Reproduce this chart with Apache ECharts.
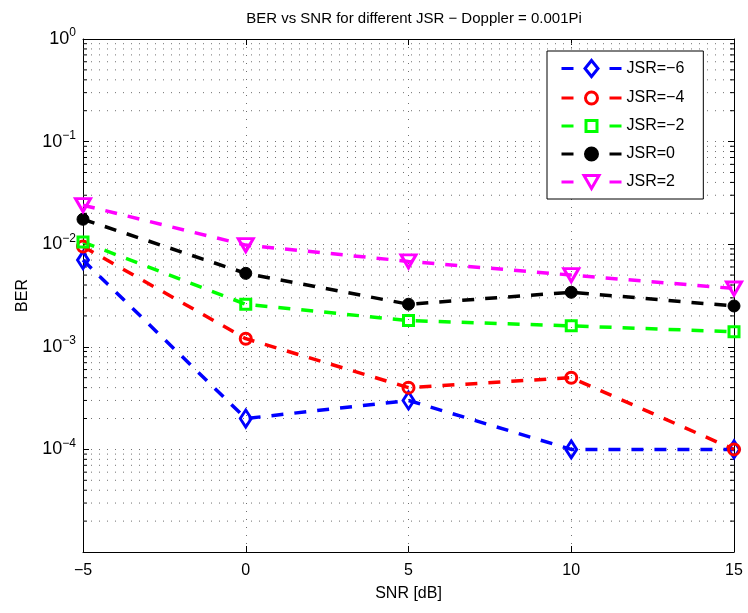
<!DOCTYPE html>
<html>
<head>
<meta charset="utf-8">
<script src="https://cdn.jsdelivr.net/npm/echarts@6/dist/echarts.min.js"></script>
<style>
  html, body { margin: 0; padding: 0; background: #fff; }
  #chart { width: 748px; height: 613px; }
</style>
</head>
<body>
<div id="chart"></div>
<script>
// SNR points (dB)
const snr = [-5, 0, 5, 10, 15];

// BER per jammer-to-signal ratio
const berJsrM6 = [0.0070, 0.00020, 0.00030, 0.00010, 0.00010];
const berJsrM4 = [0.0095, 0.00120, 0.00040, 0.00050, 0.00010];
const berJsrM2 = [0.0105, 0.00260, 0.00180, 0.00160, 0.00140];
const berJsr0  = [0.0175, 0.00520, 0.00260, 0.00340, 0.00250];
const berJsr2  = [0.0240, 0.00980, 0.00680, 0.00500, 0.00370];

const seriesNames = ['JSR=\u22126', 'JSR=\u22124', 'JSR=\u22122', 'JSR=0', 'JSR=2'];
const seriesColors = ['#0000ff', '#ff0000', '#00ff00', '#000000', '#ff00ff'];

// minor log grid positions (2..9 x 10^k)
const minorLevels = [];
for (let k = -5; k <= -1; k++) {
  for (let m = 2; m <= 9; m++) minorLevels.push(m * Math.pow(10, k));
}

const FONT = 'Liberation Sans, Arial, Helvetica, sans-serif';
const dash = [12, 11];
const gridDot = { color: '#707070', width: 1, type: [1, 7] };

// legend glyphs: short dash, marker outline, short dash (60 x 16 box)
const dashes = 'M0,8L12,8M48,8L60,8';
const legendIcons = [
  'path://' + dashes + 'M30,0L36.5,8L30,16L23.5,8Z',
  'path://' + dashes + 'M30,2A6,6,0,1,1,29.99,2Z',
  'path://' + dashes + 'M24.5,2.5L35.5,2.5L35.5,13.5L24.5,13.5Z',
  'path://' + dashes + 'M30,2A6,6,0,1,1,29.99,2Z',
  'path://' + dashes + 'M22.5,1.5L37.5,1.5L30,14.5Z'
];

function pairs(ys) { return snr.map((x, i) => [x, ys[i]]); }

function lineSeries(name, ys, color, symbol, size, opts) {
  return Object.assign({
    name: name,
    type: 'line',
    data: pairs(ys),
    symbol: symbol,
    symbolSize: size,
    showAllSymbol: true,
    lineStyle: { color: color, width: 3.5, type: dash },
    itemStyle: { color: 'rgba(255,255,255,0)', borderColor: color, borderWidth: 3 },
    emphasis: { disabled: true },
    z: 5
  }, opts || {});
}

const chart = echarts.init(document.getElementById('chart'), null, { renderer: 'canvas' });

chart.setOption({
  animation: false,
  backgroundColor: '#fff',
  title: {
    text: 'BER vs SNR for different JSR \u2212 Doppler = 0.001Pi',
    left: 409, top: 6, textAlign: 'center',
    textStyle: { fontFamily: FONT, fontSize: 15, fontWeight: 'normal', color: '#000' }
  },
  grid: { left: 83, right: 14, top: 39, bottom: 61 },
  legend: {
    data: seriesNames.map((n, i) => ({
      name: n,
      icon: legendIcons[i],
      itemStyle: i === 3
        ? { color: '#000', borderColor: '#000', borderWidth: 3 }
        : { color: 'rgba(255,255,255,0)', borderColor: seriesColors[i], borderWidth: 3 }
    })),
    orient: 'vertical',
    left: 547, top: 51,
    padding: [8, 19, 9, 13],
    itemWidth: 60, itemHeight: 16, itemGap: 12,
    backgroundColor: '#fff',
    borderColor: '#000', borderWidth: 1,
    textStyle: { fontFamily: FONT, fontSize: 16, color: '#000' }
  },
  xAxis: [{
    type: 'value', min: -5, max: 15, interval: 5,
    name: 'SNR [dB]', nameLocation: 'middle', nameGap: 34,
    nameTextStyle: { fontFamily: FONT, fontSize: 16, color: '#000' },
    axisLine: { onZero: false, lineStyle: { color: '#000', width: 1 } },
    axisTick: { inside: true, length: 6, lineStyle: { color: '#000' } },
    axisLabel: {
      margin: 11, fontFamily: FONT, fontSize: 16, color: '#000',
      formatter: v => String(v).replace('-', '\u2212')
    },
    splitLine: { show: true, lineStyle: gridDot }
  }, {
    type: 'value', position: 'top', min: -5, max: 15, interval: 5,
    axisLine: { show: true, onZero: false, lineStyle: { color: '#000', width: 1 } },
    axisTick: { inside: true, length: 6, lineStyle: { color: '#000' } },
    axisLabel: { show: false },
    splitLine: { show: false }
  }],
  yAxis: [{
    type: 'log', logBase: 10, min: 1e-5, max: 1,
    name: 'BER', nameLocation: 'middle', nameGap: 52, nameRotate: 90,
    nameTextStyle: { fontFamily: FONT, fontSize: 16, color: '#000' },
    axisLine: { show: true, onZero: false, lineStyle: { color: '#000', width: 1 } },
    axisTick: { inside: true, length: 6, lineStyle: { color: '#000' } },
    axisLabel: {
      margin: 7, fontFamily: FONT, color: '#000',
      formatter: function (v) {
        const e = Math.round(Math.log10(v));
        if (e === -5) return '';
        const s = e < 0 ? '\u2212' + (-e) : String(e);
        return '{b|10}{s|' + s + '}';
      },
      rich: {
        b: { fontFamily: FONT, fontSize: 18, color: '#000' },
        s: { fontFamily: FONT, fontSize: 12, color: '#000', padding: [0, 0, 12, 0] }
      }
    },
    splitLine: { show: true, lineStyle: gridDot }
  }, {
    type: 'log', logBase: 10, min: 1e-5, max: 1, position: 'right',
    axisLine: { show: true, onZero: false, lineStyle: { color: '#000', width: 1 } },
    axisTick: { inside: true, length: 6, lineStyle: { color: '#000' } },
    axisLabel: { show: false },
    splitLine: { show: false }
  }],
  series: [
    {
      type: 'custom',
      name: 'minorGrid',
      silent: true,
      z: 1,
      data: minorLevels.map(v => [-5, v]),
      encode: { x: 0, y: 1 },
      renderItem: function (params, api) {
        const v = api.value(1);
        const a = api.coord([-5, v]);
        const b = api.coord([15, v]);
        return {
          type: 'group',
          children: [
            { type: 'line', shape: { x1: a[0], y1: a[1], x2: b[0], y2: b[1] },
              style: { stroke: '#707070', lineWidth: 1, lineDash: [1, 7] } },
            { type: 'line', shape: { x1: a[0], y1: a[1], x2: a[0] + 4, y2: a[1] },
              style: { stroke: '#000', lineWidth: 1 } },
            { type: 'line', shape: { x1: b[0] - 4, y1: b[1], x2: b[0], y2: b[1] },
              style: { stroke: '#000', lineWidth: 1 } }
          ]
        };
      }
    },
    lineSeries(seriesNames[0], berJsrM6, seriesColors[0], 'diamond', [11, 17]),
    lineSeries(seriesNames[1], berJsrM4, seriesColors[1], 'circle', 11),
    lineSeries(seriesNames[2], berJsrM2, seriesColors[2], 'rect', 10),
    lineSeries(seriesNames[3], berJsr0, seriesColors[3], 'circle', 12,
      { itemStyle: { color: '#000', borderColor: '#000', borderWidth: 1 } }),
    lineSeries(seriesNames[4], berJsr2, seriesColors[4], 'triangle', [15, 13],
      { symbolRotate: 180 })
  ]
});
</script>
</body>
</html>
